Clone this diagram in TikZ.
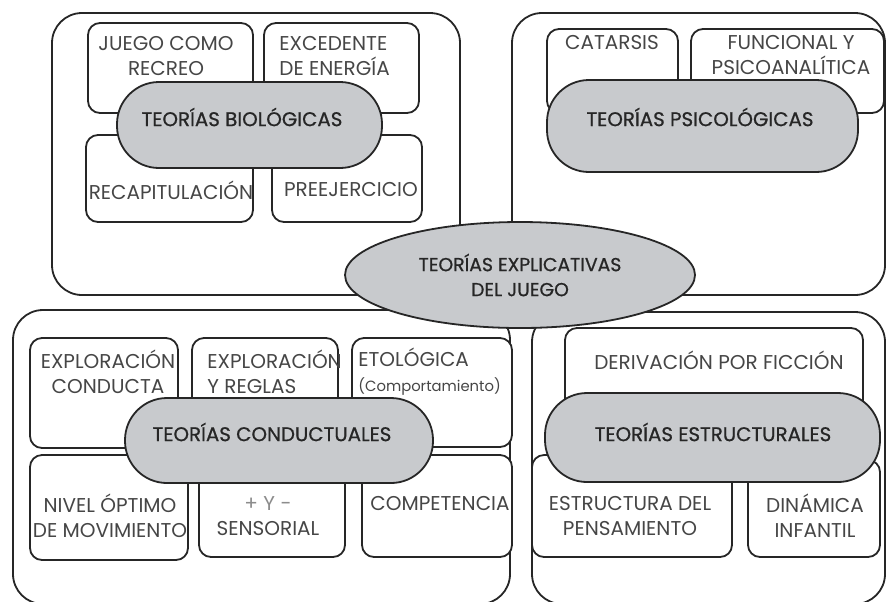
\documentclass[tikz,border=0pt]{standalone}
\usepackage{fontspec}
\setmainfont{Poppins}
\newfontfamily\titlefont{Poppins}[FakeBold=0.8]
\usepackage{tikz}
\usetikzlibrary{shapes.geometric}
\definecolor{pillgray}{RGB}{200,202,205}
\definecolor{inkgray}{RGB}{70,70,70}

\begin{document}
\begin{tikzpicture}[x=0.5pt, y=-0.5pt,
  outerbox/.style={draw=black!85, line width=0.9pt, rounded corners=15pt, fill=white},
  subbox/.style={draw=black!85, line width=0.9pt, rounded corners=6pt, fill=white},
  theme/.style={draw=black!85, line width=0.9pt, fill=pillgray, rounded corners=21pt},
  lbl/.style={text=inkgray, font=\fontsize{10}{12.5}\selectfont, align=center, inner sep=0pt},
  ttl/.style={text=black!85, font=\titlefont\fontsize{9.9}{12.5}\selectfont, align=center, inner sep=0pt}]
\useasboundingbox (0,0) rectangle (887,601);

% Outer frames
\draw[outerbox] (52,13) rectangle (460,295);
\draw[outerbox] (512,13) rectangle (885,295);
\draw[outerbox] (13,310) rectangle (510,604);
\draw[outerbox] (532,312) rectangle (885,604);

% Biological theories
\draw[subbox] (88,23) rectangle (253,113);
\draw[subbox] (264,23) rectangle (419,113);
\draw[subbox] (86,135) rectangle (253,222);
\draw[subbox] (272,135) rectangle (422,222);
\node[lbl] (juego) at (166,56) {JUEGO COMO\\RECREO};
\node[lbl, align=left, anchor=west] (excedente) at (279,56) {EXCEDENTE\\DE ENERGÍA};
\node[lbl] (recap) at (171,190) {RECAPITULACIÓN};
\node[lbl] (preej) at (351,190) {PREEJERCICIO};
\draw[theme] (117,82) rectangle (382,168);
\node[ttl] (bio) at (242,117) {TEORÍAS BIOLÓGICAS};

% Psychological theories
\draw[subbox] (547,29) rectangle (678,113);
\draw[subbox] (691,29) rectangle (884,113);
\node[lbl] (catarsis) at (612,43) {CATARSIS};
\node[lbl] (funcional) at (791,55) {FUNCIONAL Y\\PSICOANALÍTICA};
\draw[theme] (547,80) rectangle (858,172);
\node[ttl] (psico) at (700,117) {TEORÍAS PSICOLÓGICAS};

% Behavioural theories
\draw[subbox] (30,338) rectangle (178,448);
\draw[subbox] (192,338) rectangle (338,448);
\draw[subbox] (352,338) rectangle (512,447);
\draw[subbox] (30,455) rectangle (188,560);
\draw[subbox] (199,455) rectangle (345,557);
\draw[subbox] (362,455) rectangle (512,557);
\node[lbl] (explcond) at (108,372) {EXPLORACIÓN\\CONDUCTA};
\node[lbl, align=left, anchor=west] (explregl) at (207,372) {EXPLORACIÓN\\Y REGLAS};
\node[lbl, align=left, anchor=west] (etologica) at (358,372) {ETOLÓGICA\\{\fontsize{7.4}{10}\selectfont(Comportamiento)}};
\node[lbl] (nivel) at (110,516) {NIVEL ÓPTIMO\\DE MOVIMIENTO};
\node[lbl] (sensorial) at (268,516) {{\color{black!45}+ Y -}\\SENSORIAL};
\node[lbl] (competencia) at (440,503) {COMPETENCIA};
\draw[theme] (125,398) rectangle (433,483);
\node[ttl] (conductual) at (272,432) {TEORÍAS CONDUCTUALES};

% Structural theories
\draw[subbox] (565,328) rectangle (863,440);
\draw[subbox] (532,455) rectangle (732,557);
\draw[subbox] (748,460) rectangle (880,557);
\node[lbl] (derivacion) at (719,360) {DERIVACIÓN POR FICCIÓN};
\node[lbl] (pensamiento) at (630,516) {ESTRUCTURA DEL\\PENSAMIENTO};
\node[lbl] (dinamica) at (815,516) {DINÁMICA\\INFANTIL};
\draw[theme] (545,393) rectangle (880,482);
\node[ttl] (estructural) at (713,432) {TEORÍAS ESTRUCTURALES};

% Central ellipse
\node[ellipse, draw=black!85, line width=0.9pt, fill=pillgray, minimum width=175pt, minimum height=53pt,
  ttl, font=\titlefont\fontsize{9.4}{12.5}\selectfont] (teorias) at (520,275) {TEORÍAS EXPLICATIVAS\\DEL JUEGO};
\end{tikzpicture}
\end{document}
